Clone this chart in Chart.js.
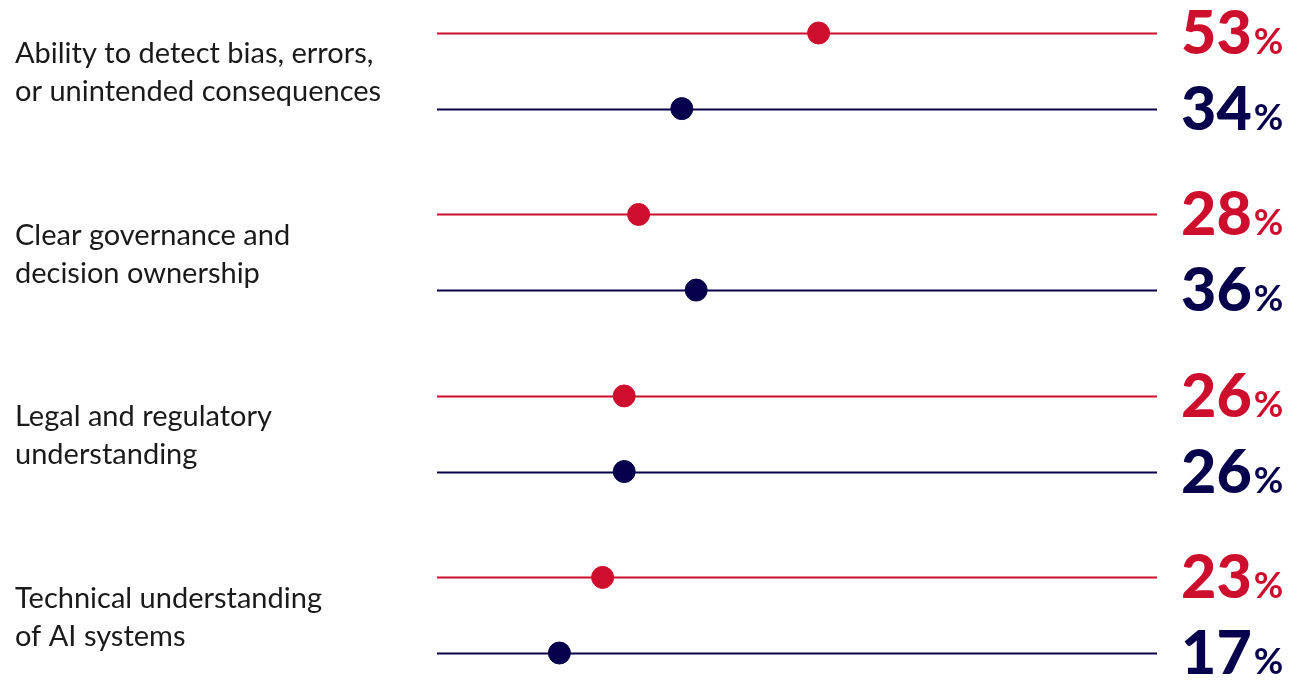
<!DOCTYPE html>
<html>
<head>
<meta charset="utf-8">
<script src="https://cdn.jsdelivr.net/npm/chart.js@4"></script>
<style>
  html, body { margin: 0; padding: 0; background: #ffffff; }
  #wrap { width: 1294px; height: 680px; position: relative; }
</style>
</head>
<body>
<div id="wrap"><canvas id="chart"></canvas></div>
<script>
// Capabilities compared, two measurements per capability
const categories = [
  ["Ability to detect bias, errors,", "or unintended consequences"],
  ["Clear governance and", "decision ownership"],
  ["Legal and regulatory", "understanding"],
  ["Technical understanding", "of AI systems"]
];
const redValues = [53, 28, 26, 23];
const navyValues = [34, 36, 26, 17];
const axisMin = 0;
const axisMax = 100;

const RED = "#CE0E2D";
const NAVY = "#07004D";
const GROUP_STEP = 2.4;   // vertical distance between groups, in row units

function rowPos(groupIndex, seriesIndex) {
  return groupIndex * GROUP_STEP + seriesIndex;
}

const redPoints = redValues.map((v, i) => ({ x: v, y: rowPos(i, 0) }));
const navyPoints = navyValues.map((v, i) => ({ x: v, y: rowPos(i, 1) }));

// Draws the full-width tracks behind the dots
const tracksPlugin = {
  id: "tracks",
  beforeDatasetsDraw(chart) {
    const { ctx, scales: { x, y } } = chart;
    ctx.save();
    ctx.lineWidth = 2.2;
    categories.forEach((_, g) => {
      [RED, NAVY].forEach((col, s) => {
        const py = Math.round(y.getPixelForValue(rowPos(g, s))) + 0.5;
        ctx.strokeStyle = col;
        ctx.beginPath();
        ctx.moveTo(x.getPixelForValue(axisMin), py);
        ctx.lineTo(x.getPixelForValue(axisMax), py);
        ctx.stroke();
      });
    });
    ctx.restore();
  }
};

// Category names on the left and value readouts on the right
const labelsPlugin = {
  id: "sideLabels",
  afterDatasetsDraw(chart) {
    const { ctx, scales: { x, y } } = chart;
    ctx.save();
    ctx.textBaseline = "middle";
    ctx.textAlign = "left";
    ctx.fillStyle = "#1a1a1a";
    ctx.font = "29px Lato";
    const lineGap = 38;
    categories.forEach((lines, g) => {
      const mid = (y.getPixelForValue(rowPos(g, 0)) + y.getPixelForValue(rowPos(g, 1))) / 2;
      const start = mid - (lines.length - 1) * lineGap / 2 + 2;
      lines.forEach((t, k) => ctx.fillText(t, 15, start + k * lineGap));
    });

    ctx.textBaseline = "alphabetic";
    const valueX = x.right + 24;
    [[redValues, RED], [navyValues, NAVY]].forEach(([vals, col], s) => {
      vals.forEach((v, g) => {
        const py = y.getPixelForValue(rowPos(g, s));
        const base = py + 21;
        ctx.fillStyle = col;
        ctx.font = "900 61px Lato";
        const num = String(v);
        ctx.fillText(num, valueX, base);
        const w = ctx.measureText(num).width;
        ctx.font = "bold 36px Lato";
        ctx.fillText("%", valueX + w + 2, base);
      });
    });
    ctx.restore();
  }
};

new Chart(document.getElementById("chart"), {
  type: "scatter",
  data: {
    datasets: [
      { data: redPoints, backgroundColor: RED, borderColor: RED, pointRadius: 11, pointHoverRadius: 11, clip: false },
      { data: navyPoints, backgroundColor: NAVY, borderColor: NAVY, pointRadius: 11, pointHoverRadius: 11, clip: false }
    ]
  },
  options: {
    responsive: true,
    maintainAspectRatio: false,
    animation: false,
    layout: { padding: { left: 437, right: 137, top: 33, bottom: 27 } },
    plugins: { legend: { display: false }, tooltip: { enabled: false } },
    scales: {
      x: { type: "linear", min: axisMin, max: axisMax, display: false },
      y: { type: "linear", min: 0, max: rowPos(categories.length - 1, 1), reverse: true, display: false }
    }
  },
  plugins: [tracksPlugin, labelsPlugin]
});
</script>
</body>
</html>
